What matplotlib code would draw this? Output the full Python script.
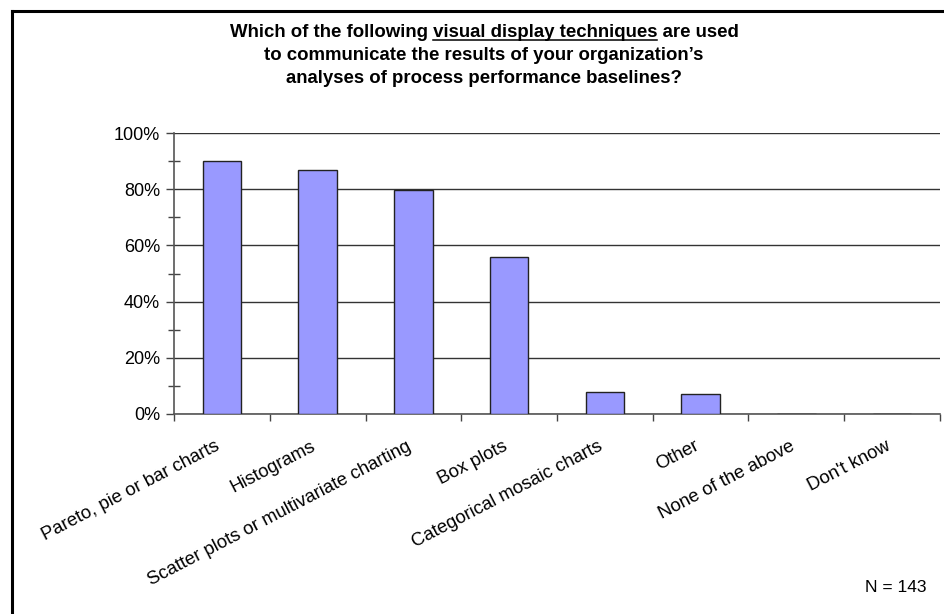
import numpy as np
import matplotlib
matplotlib.use("Agg")
import matplotlib.pyplot as plt
from matplotlib.lines import Line2D
from matplotlib.ticker import MultipleLocator, PercentFormatter
from matplotlib.transforms import ScaledTranslation

plt.rcParams["font.family"] = ["Liberation Sans", "DejaVu Sans"]

categories = [
    "Pareto, pie or bar charts",
    "Histograms",
    "Scatter plots or multivariate charting",
    "Box plots",
    "Categorical mosaic charts",
    "Other",
    "None of the above",
    "Don't know",
]
percent = [90.2, 86.7, 79.7, 55.9, 7.7, 7.0, 0.0, 0.0]
n_respondents = 143

title_first = ("Which of the following", "visual display techniques", "are used")
title_rest = [
    "to communicate the results of your organization\u2019s",
    "analyses of process performance baselines?",
]

W, H = 945, 614
fig = plt.figure(figsize=(W / 100, H / 100), dpi=100)
ax = fig.add_axes([174 / W, 1 - 414 / H, (940 - 174) / W, (414 - 133) / H])

x = np.arange(len(categories)) + 0.5
ax.bar(x, percent, width=0.4, color="#9999ff", edgecolor="#222222",
       linewidth=1.0, zorder=3)

ax.set_xlim(0, len(categories))
ax.set_ylim(0, 100)
ax.yaxis.set_major_locator(MultipleLocator(20))
ax.yaxis.set_minor_locator(MultipleLocator(10))
ax.yaxis.set_major_formatter(PercentFormatter(decimals=0))
ax.grid(axis="y", which="major", color="#333333", lw=1.0, zorder=0)

# boundary ticks on x, labels sit at the category centres
ax.set_xticks(np.arange(len(categories) + 1))
ax.set_xticklabels([])
ax.set_xticks(x, minor=True)
ax.set_xticklabels(categories, minor=True, rotation=27.5, ha="right",
                   va="top", rotation_mode="anchor", fontsize=13.3)
ax.tick_params(axis="x", which="major", length=5, width=1, color="#444444")
ax.tick_params(axis="x", which="minor", length=0, pad=17)
shift = ScaledTranslation(-5 / 72, 0, fig.dpi_scale_trans)
for lab in ax.get_xticklabels(minor=True):
    lab.set_transform(lab.get_transform() + shift)
ax.tick_params(axis="y", which="major", length=6, width=1, color="#444444",
               labelsize=13, pad=4)
ax.tick_params(axis="y", which="minor", length=9, width=1, color="#444444",
               direction="inout")

for side in ("top", "right"):
    ax.spines[side].set_visible(False)
for side in ("left", "bottom"):
    ax.spines[side].set_color("#555555")
    ax.spines[side].set_linewidth(1.2)

# title, with the key phrase underlined
fs_title = 13.4
cx = 484 / W
renderer = fig.canvas.get_renderer()


def text_width(s):
    t = fig.text(0, 0, s, fontsize=fs_title, fontweight="bold")
    w = t.get_window_extent(renderer).width
    t.remove()
    return w


line1 = " ".join(title_first)
w_full = text_width(line1)
w_space = text_width("a a") - text_width("aa")
u_start = text_width(title_first[0]) + w_space
u_end = text_width(title_first[0] + " " + title_first[1])
left_px = cx * W - w_full / 2

base_y = [37, 60, 83]
fig.text(cx, 1 - base_y[0] / H, line1, ha="center", va="baseline",
         fontsize=fs_title, fontweight="bold")
for line, by in zip(title_rest, base_y[1:]):
    fig.text(cx, 1 - by / H, line, ha="center", va="baseline",
             fontsize=fs_title, fontweight="bold")
fig.add_artist(Line2D([(left_px + u_start) / W, (left_px + u_end) / W],
                      [1 - 40 / H] * 2, transform=fig.transFigure,
                      color="black", lw=1.1))

fig.text(896 / W, 1 - 588 / H, f"N = {n_respondents}", ha="center",
         va="center", fontsize=12.5)

# page frame
fig.add_artist(Line2D([11.5 / W, 1], [1 - 10.5 / H] * 2,
                      transform=fig.transFigure, color="black", lw=2.2))
fig.add_artist(Line2D([11.5 / W] * 2, [0, 1 - 10.5 / H],
                      transform=fig.transFigure, color="black", lw=2.2))

fig.savefig("out.png", dpi=100)
